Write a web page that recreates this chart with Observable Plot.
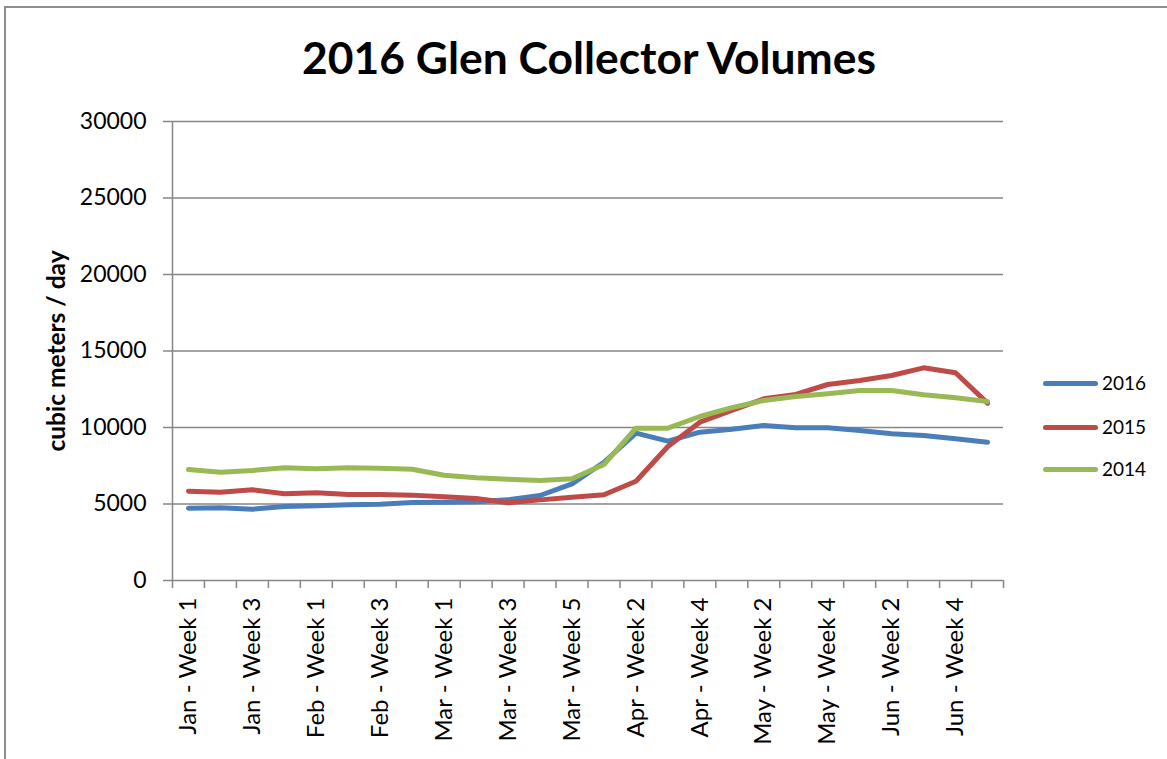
<!DOCTYPE html>
<html>
<head>
<meta charset="utf-8">
<script src="https://cdn.jsdelivr.net/npm/d3@7"></script>
<script src="https://cdn.jsdelivr.net/npm/@observablehq/plot@0.6"></script>
<style>
  html, body { margin: 0; padding: 0; background: #fff; overflow: hidden; }
  #wrap { position: relative; width: 1167px; height: 759px; font-family: Lato, "Open Sans", sans-serif; }
  #border { position: absolute; left: 4px; top: 6px; width: 2000px; height: 2000px;
            border-left: 2px solid #8e8e8e; border-top: 2px solid #8e8e8e; box-sizing: border-box; }
  #title { position: absolute; left: 0; width: 1178px; top: 30px; text-align: center;
           font-weight: bold; font-size: 44.4px; line-height: 53px; color: #000; }
  #legend { position: absolute; left: 1043px; top: 360px; }
  .lg { position: absolute; left: 0; height: 22px; width: 120px; }
  .lg .sw { position: absolute; left: 0; top: 9px; width: 55px; height: 5px; border-radius: 3px; }
  .lg .tx { position: absolute; left: 59px; top: 0; font-size: 19px; line-height: 22px; color: #000; }
  #chart { position: absolute; left: 0; top: 0; }
</style>
</head>
<body>
<div id="wrap">
  <div id="border"></div>
  <div id="chart"></div>
  <div id="title"></div>
  <div id="legend"></div>
</div>
<script>
const title = "2016 Glen Collector Volumes";
const yLabel = "cubic meters / day";

const categories = [
  "Jan - Week 1","Jan - Week 2","Jan - Week 3","Jan - Week 4",
  "Feb - Week 1","Feb - Week 2","Feb - Week 3","Feb - Week 4",
  "Mar - Week 1","Mar - Week 2","Mar - Week 3","Mar - Week 4","Mar - Week 5",
  "Apr - Week 1","Apr - Week 2","Apr - Week 3","Apr - Week 4",
  "May - Week 1","May - Week 2","May - Week 3","May - Week 4",
  "Jun - Week 1","Jun - Week 2","Jun - Week 3","Jun - Week 4","Jun - Week 5"
];

const seriesNames = ["2016", "2015", "2014"];
const seriesColors = ["#4a7ebb", "#be4b48", "#98b954"];

const values2016 = [4730,4750,4660,4840,4880,4950,4990,5100,5110,5140,5270,5555,6320,7730,9630,9105,9695,9890,10130,9980,9980,9800,9585,9475,9260,9040];
const values2015 = [5840,5775,5930,5665,5730,5620,5620,5580,5470,5360,5080,5270,5445,5600,6490,8760,10350,11110,11875,12160,12810,13070,13400,13900,13575,11590];
const values2014 = [7255,7080,7190,7365,7300,7365,7330,7275,6880,6710,6620,6540,6645,7580,9955,9955,10720,11300,11765,12025,12200,12420,12420,12135,11940,11700];

const yTicks = [0, 5000, 10000, 15000, 20000, 25000, 30000];

const allValues = [values2016, values2015, values2014];
const data = [];
seriesNames.forEach((s, k) => {
  allValues[k].forEach((v, i) => data.push({series: s, pos: i + 0.5, value: v}));
});

const boundaryTicks = d3.range(0, categories.length + 1);
const labelTicks = d3.range(0, categories.length, 2).map(i => i + 0.5);

const grey = "#868686";

const plot = Plot.plot({
  width: 1167,
  height: 759,
  marginLeft: 172,
  marginRight: 164,
  marginTop: 121,
  marginBottom: 179,
  style: {fontFamily: "Lato, 'Open Sans', sans-serif", fontSize: "23px", color: "#000", background: "transparent", overflow: "visible"},
  x: {domain: [0, categories.length], axis: null},
  y: {domain: [0, 30000], axis: null},
  color: {domain: seriesNames, range: seriesColors},
  marks: [
    Plot.gridY(yTicks.filter(d => d > 0), {stroke: grey, strokeOpacity: 1, strokeWidth: 1.5}),
    Plot.ruleY([0], {stroke: grey, strokeWidth: 1.5}),
    Plot.ruleX([0], {stroke: grey, strokeWidth: 1.5}),
    Plot.axisY(yTicks, {
      anchor: "left", tickSize: 9, tickPadding: 17, stroke: grey, strokeWidth: 1.5,
      fill: "#000", fontSize: 23, tickFormat: d => String(d), label: null
    }),
    Plot.axisY([], {
      anchor: "left", tickSize: 0, fill: "#000", fontSize: 24.5, fontWeight: "bold",
      label: yLabel, labelAnchor: "center", labelArrow: "none", labelOffset: 125
    }),
    Plot.axisX(boundaryTicks, {anchor: "bottom", tickSize: 8, stroke: grey, strokeWidth: 1.5, tickFormat: () => "", label: null}),
    Plot.axisX(labelTicks, {
      anchor: "bottom", tickSize: 0, tickPadding: 17, tickRotate: -90, fill: "#000", fontSize: 24,
      tickFormat: d => categories[Math.round(d - 0.5)], label: null
    }),
    Plot.line(data, {x: "pos", y: "value", z: "series", stroke: "series", strokeWidth: 5, strokeLinejoin: "round", strokeLinecap: "round"})
  ]
});

// make sure the y label is bold and sized
d3.select(plot).selectAll("text").filter(function() { return this.textContent === yLabel; })
  .style("font-weight", "bold").style("font-size", "24.5px");

document.getElementById("chart").appendChild(plot);
document.getElementById("title").textContent = title;

const legend = document.getElementById("legend");
const legendTops = [12, 56, 98];
seriesNames.forEach((s, k) => {
  const row = document.createElement("div");
  row.className = "lg";
  row.style.top = legendTops[k] + "px";
  const sw = document.createElement("div");
  sw.className = "sw";
  sw.style.background = seriesColors[k];
  const tx = document.createElement("div");
  tx.className = "tx";
  tx.textContent = s;
  row.appendChild(sw);
  row.appendChild(tx);
  legend.appendChild(row);
});
</script>
</body>
</html>
